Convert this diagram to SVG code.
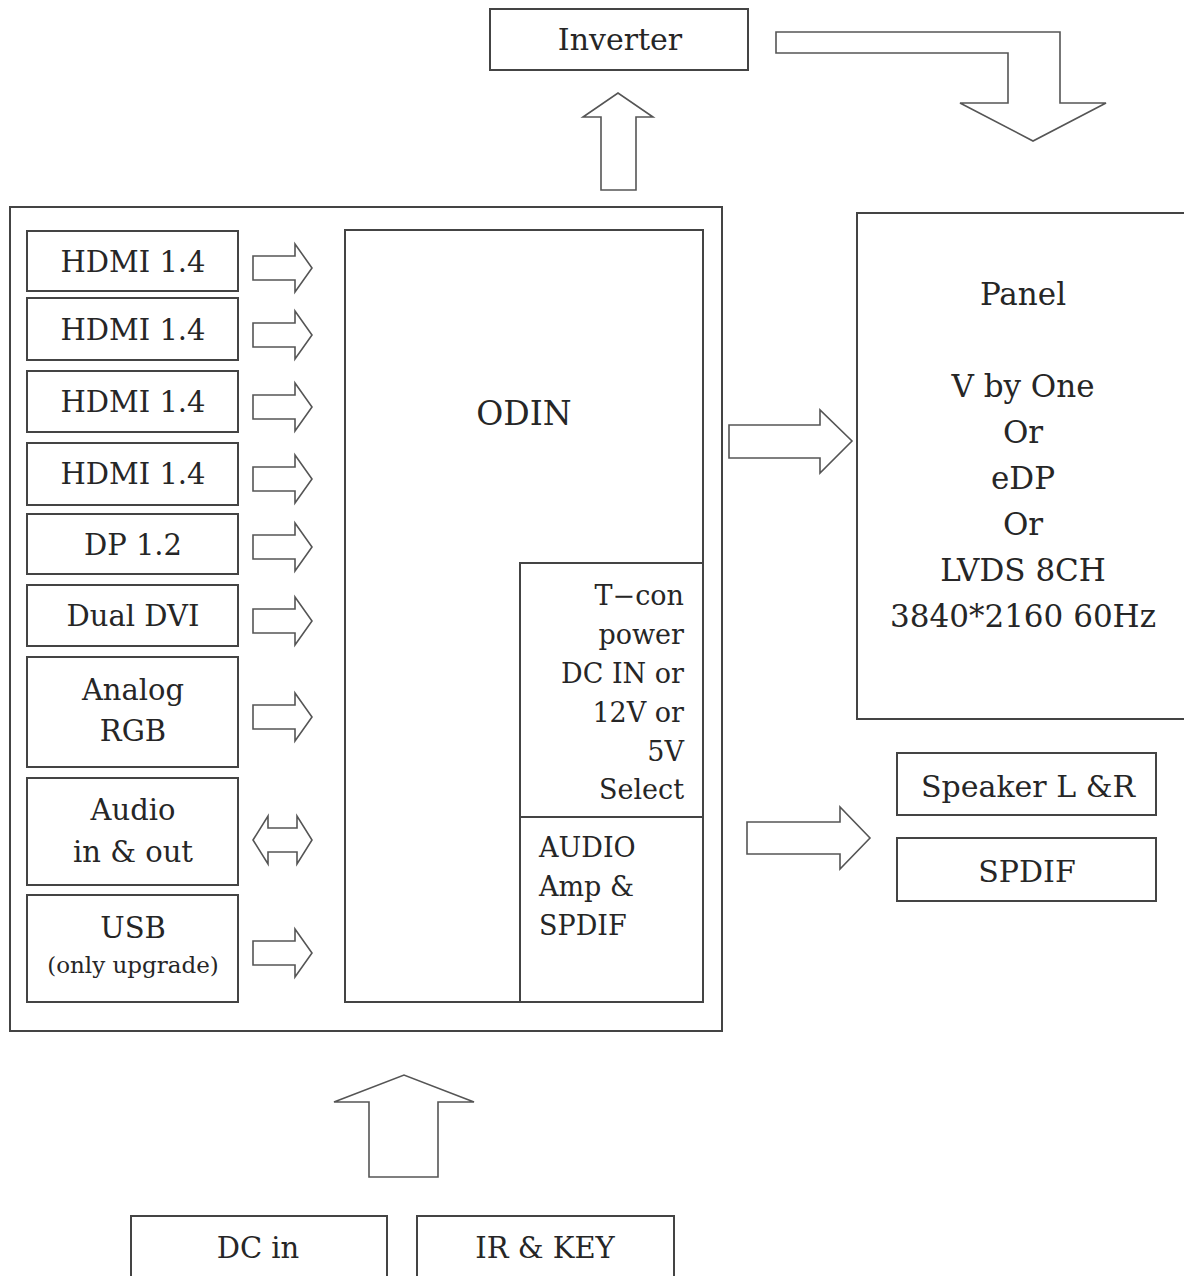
<svg xmlns="http://www.w3.org/2000/svg" width="1184" height="1276" viewBox="0 0 1184 1276">
<style>
.bx{fill:#fff;stroke:#444;stroke-width:2}
.ar{fill:#fff;stroke:#555;stroke-width:1.6;stroke-linejoin:miter}
text{font-family:"DejaVu Serif","Liberation Serif",serif;fill:#262626;font-size:29px}
.c{text-anchor:middle}
.r{text-anchor:end}
.s{font-size:23px}
.t{font-size:27px}
.p{font-size:31px}
.k{font-size:30px}
</style>
<rect width="1184" height="1276" fill="#fff"/>

<g id="inverter"><rect class="bx" x="490" y="9" width="258" height="61"/><text class="c k" x="620" y="50">Inverter</text></g>

<g id="main"><rect class="bx" x="10" y="207" width="712" height="824"/></g>

<g id="odin">
<rect class="bx" x="345" y="230" width="358" height="772"/>
<text class="c" x="524" y="425" style="font-size:33px">ODIN</text>
</g>
<g id="tcon">
<rect class="bx" x="520" y="563" width="183" height="254"/>
<text class="r t" x="684" y="605">T−con</text>
<text class="r t" x="684" y="644">power</text>
<text class="r t" x="684" y="683">DC IN or</text>
<text class="r t" x="684" y="722">12V or</text>
<text class="r t" x="684" y="761">5V</text>
<text class="r t" x="684" y="799">Select</text>
</g>
<g id="audioamp">
<rect class="bx" x="520" y="817" width="183" height="185"/>
<text class="t" x="539" y="857">AUDIO</text>
<text class="t" x="539" y="896">Amp &amp;</text>
<text class="t" x="539" y="935">SPDIF</text>
</g>

<g id="hdmi1"><rect class="bx" x="27" y="231" width="211" height="60"/><text class="c" x="133" y="272">HDMI 1.4</text></g>
<g id="hdmi2"><rect class="bx" x="27" y="298" width="211" height="62"/><text class="c" x="133" y="340">HDMI 1.4</text></g>
<g id="hdmi3"><rect class="bx" x="27" y="371" width="211" height="61"/><text class="c" x="133" y="412">HDMI 1.4</text></g>
<g id="hdmi4"><rect class="bx" x="27" y="443" width="211" height="62"/><text class="c" x="133" y="484">HDMI 1.4</text></g>
<g id="dp"><rect class="bx" x="27" y="514" width="211" height="60"/><text class="c" x="133" y="555">DP 1.2</text></g>
<g id="dvi"><rect class="bx" x="27" y="585" width="211" height="61"/><text class="c" x="133" y="626">Dual DVI</text></g>
<g id="rgb"><rect class="bx" x="27" y="657" width="211" height="110"/><text class="c" x="133" y="700">Analog</text><text class="c" x="133" y="741">RGB</text></g>
<g id="audio"><rect class="bx" x="27" y="778" width="211" height="107"/><text class="c" x="133" y="820">Audio</text><text class="c" x="133" y="862">in &amp; out</text></g>
<g id="usb"><rect class="bx" x="27" y="895" width="211" height="107"/><text class="c" x="133" y="938">USB</text><text class="c s" x="133" y="973">(only upgrade)</text></g>

<g id="panel">
<rect class="bx" x="857" y="213" width="345" height="506"/>
<text class="c p" x="1023" y="305">Panel</text>
<text class="c p" x="1023" y="397">V by One</text>
<text class="c p" x="1023" y="443">Or</text>
<text class="c p" x="1023" y="489">eDP</text>
<text class="c p" x="1023" y="535">Or</text>
<text class="c p" x="1023" y="581">LVDS 8CH</text>
<text class="c p" x="1023" y="627">3840*2160 60Hz</text>
</g>
<g id="speaker"><rect class="bx" x="897" y="753" width="259" height="62"/><text class="c k" x="1028" y="797">Speaker L &amp;R</text></g>
<g id="spdif"><rect class="bx" x="897" y="838" width="259" height="63"/><text class="c k" x="1027" y="882">SPDIF</text></g>
<g id="dcin"><rect class="bx" x="131" y="1216" width="256" height="80"/><text class="c" x="258" y="1258">DC in</text></g>
<g id="irkey"><rect class="bx" x="417" y="1216" width="257" height="80"/><text class="c" x="545" y="1258">IR &amp; KEY</text></g>

<g id="connectors">
<path class="ar" d="M601,190 V117 H583 L618,93 L653,117 H636 V190 Z"/>
<path class="ar" d="M776,32 H1060 V103 H1106 L1033,141 L960,103 H1008 V53 H776 Z"/>
<path class="ar" d="M253,256 H295 V244 L312,268 L295,292 V280 H253 Z"/>
<path class="ar" d="M253,323 H295 V311 L312,335 L295,359 V347 H253 Z"/>
<path class="ar" d="M253,395 H295 V383 L312,407 L295,431 V419 H253 Z"/>
<path class="ar" d="M253,467 H295 V455 L312,479 L295,503 V491 H253 Z"/>
<path class="ar" d="M253,535 H295 V523 L312,547 L295,571 V559 H253 Z"/>
<path class="ar" d="M253,609 H295 V597 L312,621 L295,645 V633 H253 Z"/>
<path class="ar" d="M253,705 H295 V693 L312,717 L295,741 V729 H253 Z"/>
<path class="ar" d="M253,840 L268,816 V828 H297 V816 L312,840 L297,864 V852 H268 V864 Z"/>
<path class="ar" d="M253,941 H295 V929 L312,953 L295,977 V965 H253 Z"/>
<path class="ar" d="M729,425 H820 V410 L852,441 L820,473 V458 H729 Z"/>
<path class="ar" d="M747,822 H840 V807 L870,838 L840,869 V854 H747 Z"/>
<path class="ar" d="M369,1177 V1102 H334 L404,1075 L474,1102 H438 V1177 Z"/>
</g>
</svg>
